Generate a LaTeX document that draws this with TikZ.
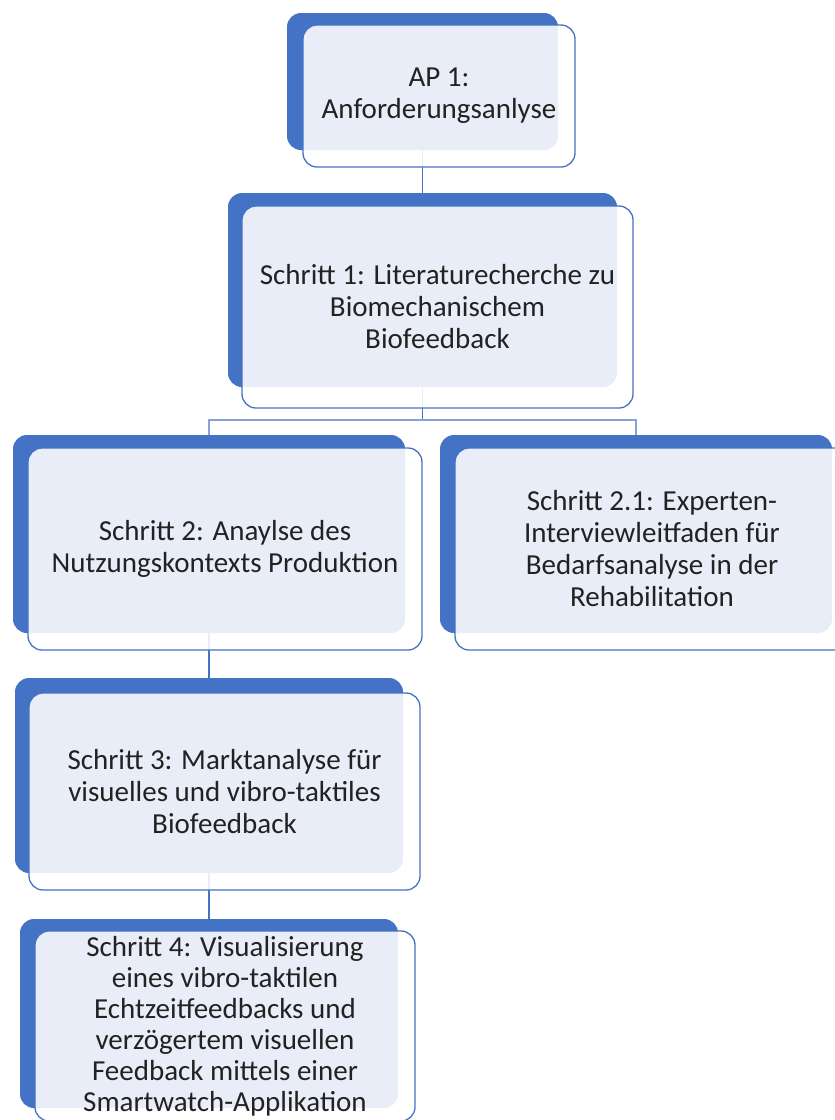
\documentclass[tikz,border=0pt]{standalone}
\usepackage{fontspec}
\setmainfont{Carlito}
\definecolor{accent}{HTML}{4472C4}
\definecolor{txt}{HTML}{222222}
\begin{document}
\begin{tikzpicture}[x=1pt,y=-1pt,
  backbox/.style={draw=none,fill=accent,rounded corners=14pt,inner sep=0pt},
  frontbox/.style={draw=accent,line width=1.3pt,fill=white,fill opacity=0.88,text opacity=1,
    rounded corners=14pt,inner sep=0pt,align=center,text=txt,
    font=\fontsize{29}{32}\selectfont},
  link/.style={draw=accent,line width=1.6pt},
  hlink/.style={draw=accent!65,line width=2pt}]
\useasboundingbox (0,0) rectangle (835,1120);
\clip (0,0) rectangle (835,1120);
% back plates
\node[backbox,minimum width=271pt,minimum height=137pt] (b1) at (422.5,81.5) {};
\node[backbox,minimum width=389pt,minimum height=194pt] (b2) at (422.5,290) {};
\node[backbox,minimum width=392pt,minimum height=198pt] (b3) at (209,534) {};
\node[backbox,minimum width=392pt,minimum height=198pt] (b4) at (636,534) {};
\node[backbox,minimum width=388pt,minimum height=195pt] (b5) at (209,775.5) {};
\node[backbox,minimum width=378pt,minimum height=189pt] (b6) at (209,1013.5) {};
% connectors
\coordinate (hub) at (422.5,420);
\draw[link] (b1.south) -- (b2.north);
\draw[link] (b2.south) -- (hub);
\draw[hlink] (hub) -| (b3.north);
\draw[hlink] (hub) -| (b4.north);
\draw[link] (b3.south) -- (b5.north);
\draw[link] (b5.south) -- (b6.north);
% front boxes
\node[frontbox,minimum width=272pt,minimum height=142pt] (f1) at (439,96)
  {AP 1:\\Anforderungsanlyse};
\node[frontbox,minimum width=391pt,minimum height=202pt] (f2) at (437.5,307)
  {Schritt 1: Literaturecherche zu\\Biomechanischem\\Biofeedback};
\node[frontbox,minimum width=394pt,minimum height=202pt] (f3) at (225,549)
  {Schritt 2: Anaylse des\\Nutzungskontexts Produktion};
\node[frontbox,minimum width=394pt,minimum height=202pt] (f4) at (652,549)
  {Schritt 2.1: Experten-\\Interviewleitfaden für\\Bedarfsanalyse in der\\Rehabilitation};
\node[frontbox,minimum width=391pt,minimum height=197pt] (f5) at (224.5,791.5)
  {Schritt 3: Marktanalyse für\\visuelles und vibro-taktiles\\Biofeedback};
\node[frontbox,minimum width=380pt,minimum height=190pt,
  font=\fontsize{29}{31}\selectfont] (f6) at (225,1026)
  {Schritt 4: Visualisierung\\eines vibro-taktilen\\Echtzeitfeedbacks und\\verzögertem visuellen\\Feedback mittels einer\\Smartwatch-Applikation};
\end{tikzpicture}
\end{document}
